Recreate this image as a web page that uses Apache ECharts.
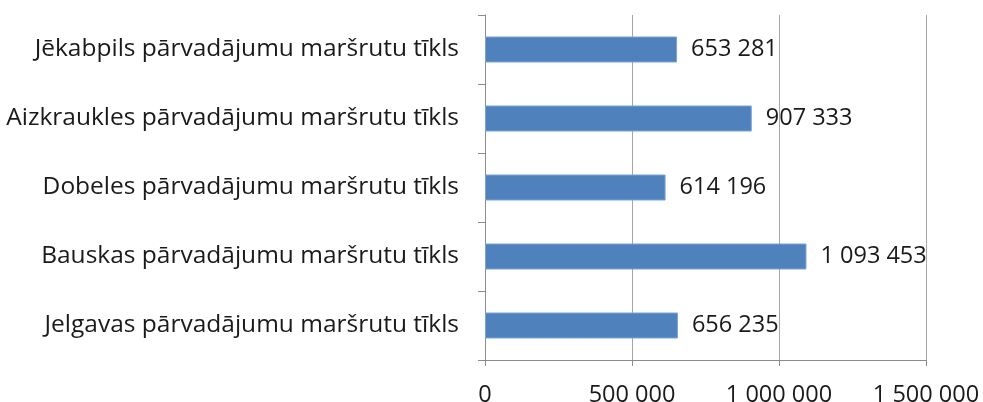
<!DOCTYPE html>
<html>
<head>
<meta charset="utf-8">
<style>
  html, body { margin: 0; padding: 0; background: #fff; }
  #chart { width: 983px; height: 402px; }
</style>
<script src="https://cdn.jsdelivr.net/npm/echarts@6/dist/echarts.min.js"></script>
</head>
<body>
<div id="chart"></div>
<script>
// Route networks, listed bottom to top as the category axis draws them
const categories = [
  'Jelgavas pārvadājumu maršrutu tīkls',
  'Bauskas pārvadājumu maršrutu tīkls',
  'Dobeles pārvadājumu maršrutu tīkls',
  'Aizkraukles pārvadājumu maršrutu tīkls',
  'Jēkabpils pārvadājumu maršrutu tīkls'
];
const values = [656235, 1093453, 614196, 907333, 653281];
const axisTicks = [0, 500000, 1000000, 1500000];

// Thousands grouped with a space: 1 093 453
function fmt(n) {
  return String(n).replace(/\B(?=(\d{3})+(?!\d))/g, ' ');
}

const FONT = '"Open Sans", sans-serif';
const TEXT = '#1a1a1a';
const chart = echarts.init(document.getElementById('chart'), null, { renderer: 'canvas' });
chart.setOption({
  animation: false,
  backgroundColor: '#ffffff',
  grid: {
    left: 485, right: 57, top: 15, bottom: 42,
    containLabel: false, outerBoundsMode: 'none'
  },
  xAxis: {
    type: 'value',
    min: axisTicks[0],
    max: axisTicks[axisTicks.length - 1],
    interval: axisTicks[1] - axisTicks[0],
    axisLine: { show: true, lineStyle: { color: '#8c8c8c', width: 1 } },
    axisTick: { show: true, length: 6, lineStyle: { color: '#8c8c8c' } },
    splitLine: { show: true, lineStyle: { color: '#a6a6a6', width: 1 } },
    axisLabel: {
      color: TEXT, fontFamily: FONT, fontSize: 23.5, margin: 23,
      formatter: v => fmt(v)
    }
  },
  yAxis: {
    type: 'category',
    data: categories,
    axisLine: { show: true, lineStyle: { color: '#8c8c8c', width: 1 } },
    axisTick: { show: true, length: 7, alignWithLabel: false, lineStyle: { color: '#8c8c8c' } },
    axisLabel: { color: TEXT, fontFamily: FONT, fontSize: 24.5, margin: 26 }
  },
  series: [{
    type: 'bar',
    data: values,
    barWidth: 26,
    itemStyle: { color: '#4f81bd', borderColor: '#7ba3d6', borderWidth: 1 },
    label: {
      show: true,
      position: 'right',
      distance: 14,
      color: TEXT,
      fontFamily: FONT,
      fontSize: 23.5,
      formatter: p => fmt(p.value)
    }
  }]
});
</script>
</body>
</html>
